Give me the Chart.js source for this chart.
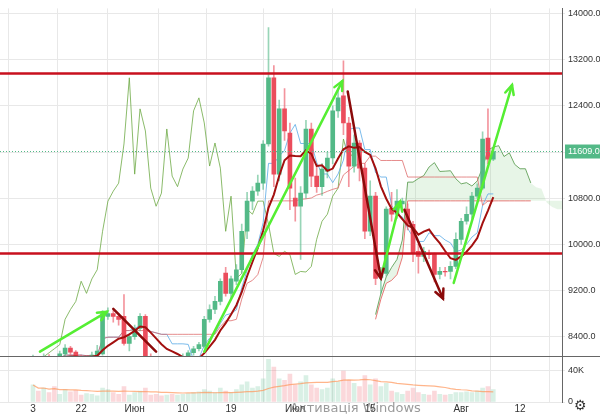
<!DOCTYPE html>
<html>
<head>
<meta charset="utf-8">
<script src="https://cdn.jsdelivr.net/npm/chart.js@4.4.0/dist/chart.umd.min.js"></script>
<style>
  html, body { margin: 0; padding: 0; background: #fff; }
  #wrap { width: 600px; height: 418px; }
</style>
</head>
<body>
<div id="wrap"><canvas id="chart"></canvas></div>
<script>
// daily candles, day 0 = 13 May
const opens  = [7950,8020,7980,8050,8000,7960,8100,8200,8130,8050,7950,8000,8080,8100,8750,8800,8750,8750,8280,8400,8540,8750,8050,7950,7900,7850,7950,7900,8000,8050,8120,8190,8230,8700,8870,9010,9500,9150,9360,9560,10226,10748,10922,11060,11740,12887,11217,12348,11930,10800,10660,10887,12000,11183,11000,11270,11496,12313,12574,12104,11357,11757,11322,10226,10835,9426,9496,10626,10522,10700,10609,10348,9878,9791,9830,9826,9478,9530,9530,9617,10087,10400,10522,10835,10974,11843,11478];
const closes = [8020,7980,8050,8000,7960,8100,8200,8130,8050,7950,8000,8080,8150,8800,8800,8750,8700,8280,8400,8540,8750,8050,7950,7900,7850,7950,7900,8000,8050,8120,8190,8260,8700,8870,9010,9360,9150,9400,9560,10226,10748,10922,11060,11740,12887,11217,12348,11965,10974,10660,10887,12000,11183,11000,11304,11496,12313,12539,12104,11357,11757,11322,10226,10835,9409,9496,10609,10522,10748,10750,10348,9843,9791,9878,9820,9478,9530,9520,9617,10087,10400,10522,10835,10974,11826,11478,11609];
const highs  = [8080,8060,8100,8090,8040,8150,8260,8230,8160,8080,8060,8130,8250,8850,8900,8850,8800,9130,8450,8600,8800,8780,8100,8000,7950,8000,8000,8050,8100,8160,8230,8300,8750,8950,9100,9400,9600,9450,9650,10350,10900,11000,11200,11800,13757,13100,12500,12700,12100,11150,11000,12150,12100,11350,11400,11600,12400,12700,13183,12200,11900,11800,11400,11100,10900,9600,10650,10900,10950,10800,10700,10400,10000,9950,9900,9850,9600,9600,9700,10200,10450,10650,10900,11050,11950,12348,11650];
const lows   = [7900,7920,7950,7940,7900,7930,8060,8090,8000,7900,7880,7960,8050,8080,8700,8650,8600,8250,8150,8350,8500,8000,7850,7800,7750,7800,7820,7850,7950,8000,8080,8150,8200,8650,8800,8950,9100,9050,9300,9500,10100,10600,10850,10950,11700,11000,11100,11800,10600,10400,9739,10800,11000,10900,10850,11150,11400,12200,11900,11000,11250,11100,10100,10150,9300,9150,9450,10400,10450,10550,10250,9700,9500,9700,9750,9350,9400,9450,9400,9580,10000,10350,10450,10800,10950,11400,11450];
const volumes = [22,14,18,12,20,10,16,13,15,9,11,10,8,18,16,12,10,20,9,12,14,18,9,10,8,9,10,9,10,11,12,13,16,14,12,18,14,12,16,22,26,18,20,30,55,45,30,28,36,22,26,34,22,18,16,18,30,26,40,28,24,20,34,22,30,20,24,14,12,10,14,18,12,10,9,14,10,9,10,12,12,13,12,14,18,20,16];

const tickDays   = [0, 9, 19, 28, 37, 49, 63, 80, 91];
const tickLabels = ['3', '22', 'Июн', '10', '19', 'Июл', '15', 'Авг', '12'];

const levelLines = [12960, 9843];
const lastPrice = 11609;

// trend arrows drawn on the chart: [day1, price1, day2, price2, head]
const greenArrows = [[1.3, 8140, 13.8, 8830, true], [32, 8140, 57.8, 12830, true], [65.3, 9540, 68.6, 10740, true], [78.6, 9330, 89.5, 12760, true]];
const redArrows = [[15, 8880, 23, 8140, false], [58.8, 12650, 65, 9410, true], [69.4, 10600, 76.6, 9060, true]];

const ichimokuShift = 26;
const cloudFirstDay = 38; // earlier cloud lies below the visible range

function midpoint(i, len) {
  let hi = -Infinity, lo = Infinity;
  for (let k = Math.max(0, i - len + 1); k <= i; k++) {
    hi = Math.max(hi, highs[k]);
    lo = Math.min(lo, lows[k]);
  }
  return (hi + lo) / 2;
}
function sma(arr, i, len) {
  let s = 0, n = 0;
  for (let k = Math.max(0, i - len + 1); k <= i; k++) { s += arr[k]; n++; }
  return s / n;
}

const days = closes.map((c, i) => i);
const tenkan = days.map(i => ({ x: i, y: midpoint(i, 9) }));
const kijun = days.map(i => ({ x: i, y: midpoint(i, 26) }));
const cloudDays = days.filter(i => i >= cloudFirstDay);
const spanA = cloudDays.map(i => ({ x: i + ichimokuShift, y: (tenkan[i].y + kijun[i].y) / 2 }));
const spanB = cloudDays.map(i => ({ x: i + ichimokuShift, y: midpoint(i, 52) }));
const chikou = days.map(i => ({ x: i - ichimokuShift, y: closes[i] }));
const ma = days.map(i => ({ x: i, y: sma(closes, i, 9) }));
const volMa = days.map(i => ({ x: i, y: sma(volumes, i, 20) }));

const up = days.map(i => closes[i] >= opens[i]);
const bodyColors = up.map(u => u ? '#53b987' : '#eb4d5c');
const wickColors = up.map(u => u ? 'rgba(83,185,135,0.6)' : 'rgba(235,77,92,0.6)');
const volColors = up.map(u => u ? 'rgba(83,185,135,0.22)' : 'rgba(235,77,92,0.22)');

const overlay = {
  id: 'overlay',
  afterDatasetsDraw(chart) {
    const { ctx, chartArea: a, scales } = chart;
    const x = scales.x, y = scales.y, yv = scales.yv;
    ctx.save();
    ctx.beginPath();
    ctx.rect(a.left, y.top, a.right - a.left, y.bottom - y.top);
    ctx.clip();
    ctx.strokeStyle = '#53b987';
    ctx.setLineDash([1, 2]);
    ctx.lineWidth = 1;
    ctx.beginPath();
    ctx.moveTo(a.left, y.getPixelForValue(lastPrice));
    ctx.lineTo(a.right, y.getPixelForValue(lastPrice));
    ctx.stroke();
    ctx.setLineDash([]);
    ctx.strokeStyle = '#c8101e';
    ctx.lineWidth = 2.5;
    levelLines.forEach(v => {
      const py = y.getPixelForValue(v);
      ctx.beginPath(); ctx.moveTo(a.left, py); ctx.lineTo(a.right, py); ctx.stroke();
    });
    function arrow(list, color) {
      ctx.strokeStyle = color;
      ctx.lineWidth = 2.5;
      ctx.lineCap = 'round';
      list.forEach(([d1, p1, d2, p2, head]) => {
        const x1 = x.getPixelForValue(d1), y1 = y.getPixelForValue(p1);
        const x2 = x.getPixelForValue(d2), y2 = y.getPixelForValue(p2);
        ctx.beginPath(); ctx.moveTo(x1, y1); ctx.lineTo(x2, y2); ctx.stroke();
        if (head) {
          const ang = Math.atan2(y2 - y1, x2 - x1);
          ctx.beginPath();
          ctx.moveTo(x2 - 10 * Math.cos(ang - 0.45), y2 - 10 * Math.sin(ang - 0.45));
          ctx.lineTo(x2, y2);
          ctx.lineTo(x2 - 10 * Math.cos(ang + 0.45), y2 - 10 * Math.sin(ang + 0.45));
          ctx.stroke();
        }
      });
    }
    arrow(greenArrows, '#55ee33');
    arrow(redArrows, '#8b0a0a');
    ctx.restore();

    ctx.strokeStyle = '#666';
    ctx.lineWidth = 1;
    ctx.beginPath();
    ctx.moveTo(0, Math.round(yv.top) + 0.5);
    ctx.lineTo(600, Math.round(yv.top) + 0.5);
    ctx.stroke();

    const py = y.getPixelForValue(lastPrice);
    ctx.fillStyle = '#53b987';
    ctx.fillRect(a.right + 3, py - 7, 36, 14);
    ctx.fillStyle = '#fff';
    ctx.font = '9px "Liberation Sans"';
    ctx.textBaseline = 'middle';
    ctx.fillText(lastPrice.toFixed(1), a.right + 6, py);

    ctx.fillStyle = 'rgba(120,120,120,0.75)';
    ctx.font = '13px "DejaVu Sans"';
    ctx.fillText('Активація Windows', 290, 409);
    ctx.fillStyle = '#333';
    ctx.font = '14px "DejaVu Sans"';
    ctx.fillText('⚙', 574, 406);
  }
};

new Chart(document.getElementById('chart'), {
  data: {
    datasets: [
      { type: 'line', data: chikou, borderColor: 'rgba(110,170,70,0.8)', borderWidth: 1, pointRadius: 0, yAxisID: 'y', order: 5 },
      { type: 'line', data: spanA, borderColor: 'rgba(80,150,70,0.8)', borderWidth: 1, pointRadius: 0, yAxisID: 'y', order: 6 },
      { type: 'line', data: spanB, borderColor: 'rgba(230,90,90,0.8)', borderWidth: 1, pointRadius: 0, yAxisID: 'y', fill: '-1', backgroundColor: 'rgba(120,200,120,0.18)', order: 6 },
      { type: 'line', data: kijun, borderColor: 'rgba(220,100,100,0.75)', borderWidth: 1, pointRadius: 0, yAxisID: 'y', order: 4 },
      { type: 'line', data: tenkan, borderColor: 'rgba(90,170,230,0.8)', borderWidth: 1, pointRadius: 0, yAxisID: 'y', order: 4 },
      { type: 'bar', data: days.map(i => ({ x: i, y: [lows[i], highs[i]] })), backgroundColor: wickColors, barThickness: 1, grouped: false, yAxisID: 'y', order: 3 },
      { type: 'bar', data: days.map(i => ({ x: i, y: [opens[i], closes[i] === opens[i] ? opens[i] + 15 : closes[i]] })), backgroundColor: bodyColors, barThickness: 4, grouped: false, yAxisID: 'y', order: 2 },
      { type: 'line', data: ma, borderColor: '#a3100f', borderWidth: 2, pointRadius: 0, yAxisID: 'y', order: 1 },
      { type: 'bar', data: days.map(i => ({ x: i, y: volumes[i] })), backgroundColor: volColors, barThickness: 4, grouped: false, yAxisID: 'yv', order: 3 },
      { type: 'line', data: volMa, borderColor: 'rgba(255,150,90,0.7)', borderWidth: 1.2, pointRadius: 0, yAxisID: 'yv', order: 1 }
    ]
  },
  options: {
    responsive: true,
    maintainAspectRatio: false,
    animation: false,
    layout: { padding: { top: -9, bottom: 2 } },
    plugins: { legend: { display: false }, tooltip: { enabled: false } },
    scales: {
      x: {
        type: 'linear', min: -0.33, max: 93,
        afterBuildTicks: s => { s.ticks = tickDays.map(v => ({ value: v })); },
        ticks: { callback: v => tickLabels[tickDays.indexOf(v)], color: '#333', font: { size: 10, family: 'Liberation Sans' }, padding: 1, maxRotation: 0, autoSkip: false },
        grid: { color: '#e8e8e8', drawTicks: false },
        border: { display: false }
      },
      y: {
        position: 'right', stack: 'pane', stackWeight: 7.6, min: 8060, max: 14090, offset: false,
        afterBuildTicks: s => { s.ticks = []; for (let v = 8400; v <= 14000; v += 400) s.ticks.push({ value: v }); },
        afterFit: s => { s.width = 38; },
        ticks: { callback: v => v.toFixed(1), color: '#333', font: { size: 9, family: 'Liberation Sans' }, padding: 3 },
        grid: { color: '#e8e8e8', drawTicks: true, tickLength: 3 },
        border: { color: '#666' }
      },
      yv: {
        position: 'right', stack: 'pane', stackWeight: 1, min: 0, max: 59, offset: false,
        afterBuildTicks: s => { s.ticks = [{ value: 0 }, { value: 40 }]; },
        afterFit: s => { s.width = 38; },
        ticks: { callback: v => v === 0 ? '0' : v + 'K', color: '#333', font: { size: 9, family: 'Liberation Sans' }, padding: 3 },
        grid: { color: '#e8e8e8', drawTicks: true, tickLength: 3 },
        border: { color: '#666' }
      }
    }
  },
  plugins: [overlay]
});
</script>
</body>
</html>
